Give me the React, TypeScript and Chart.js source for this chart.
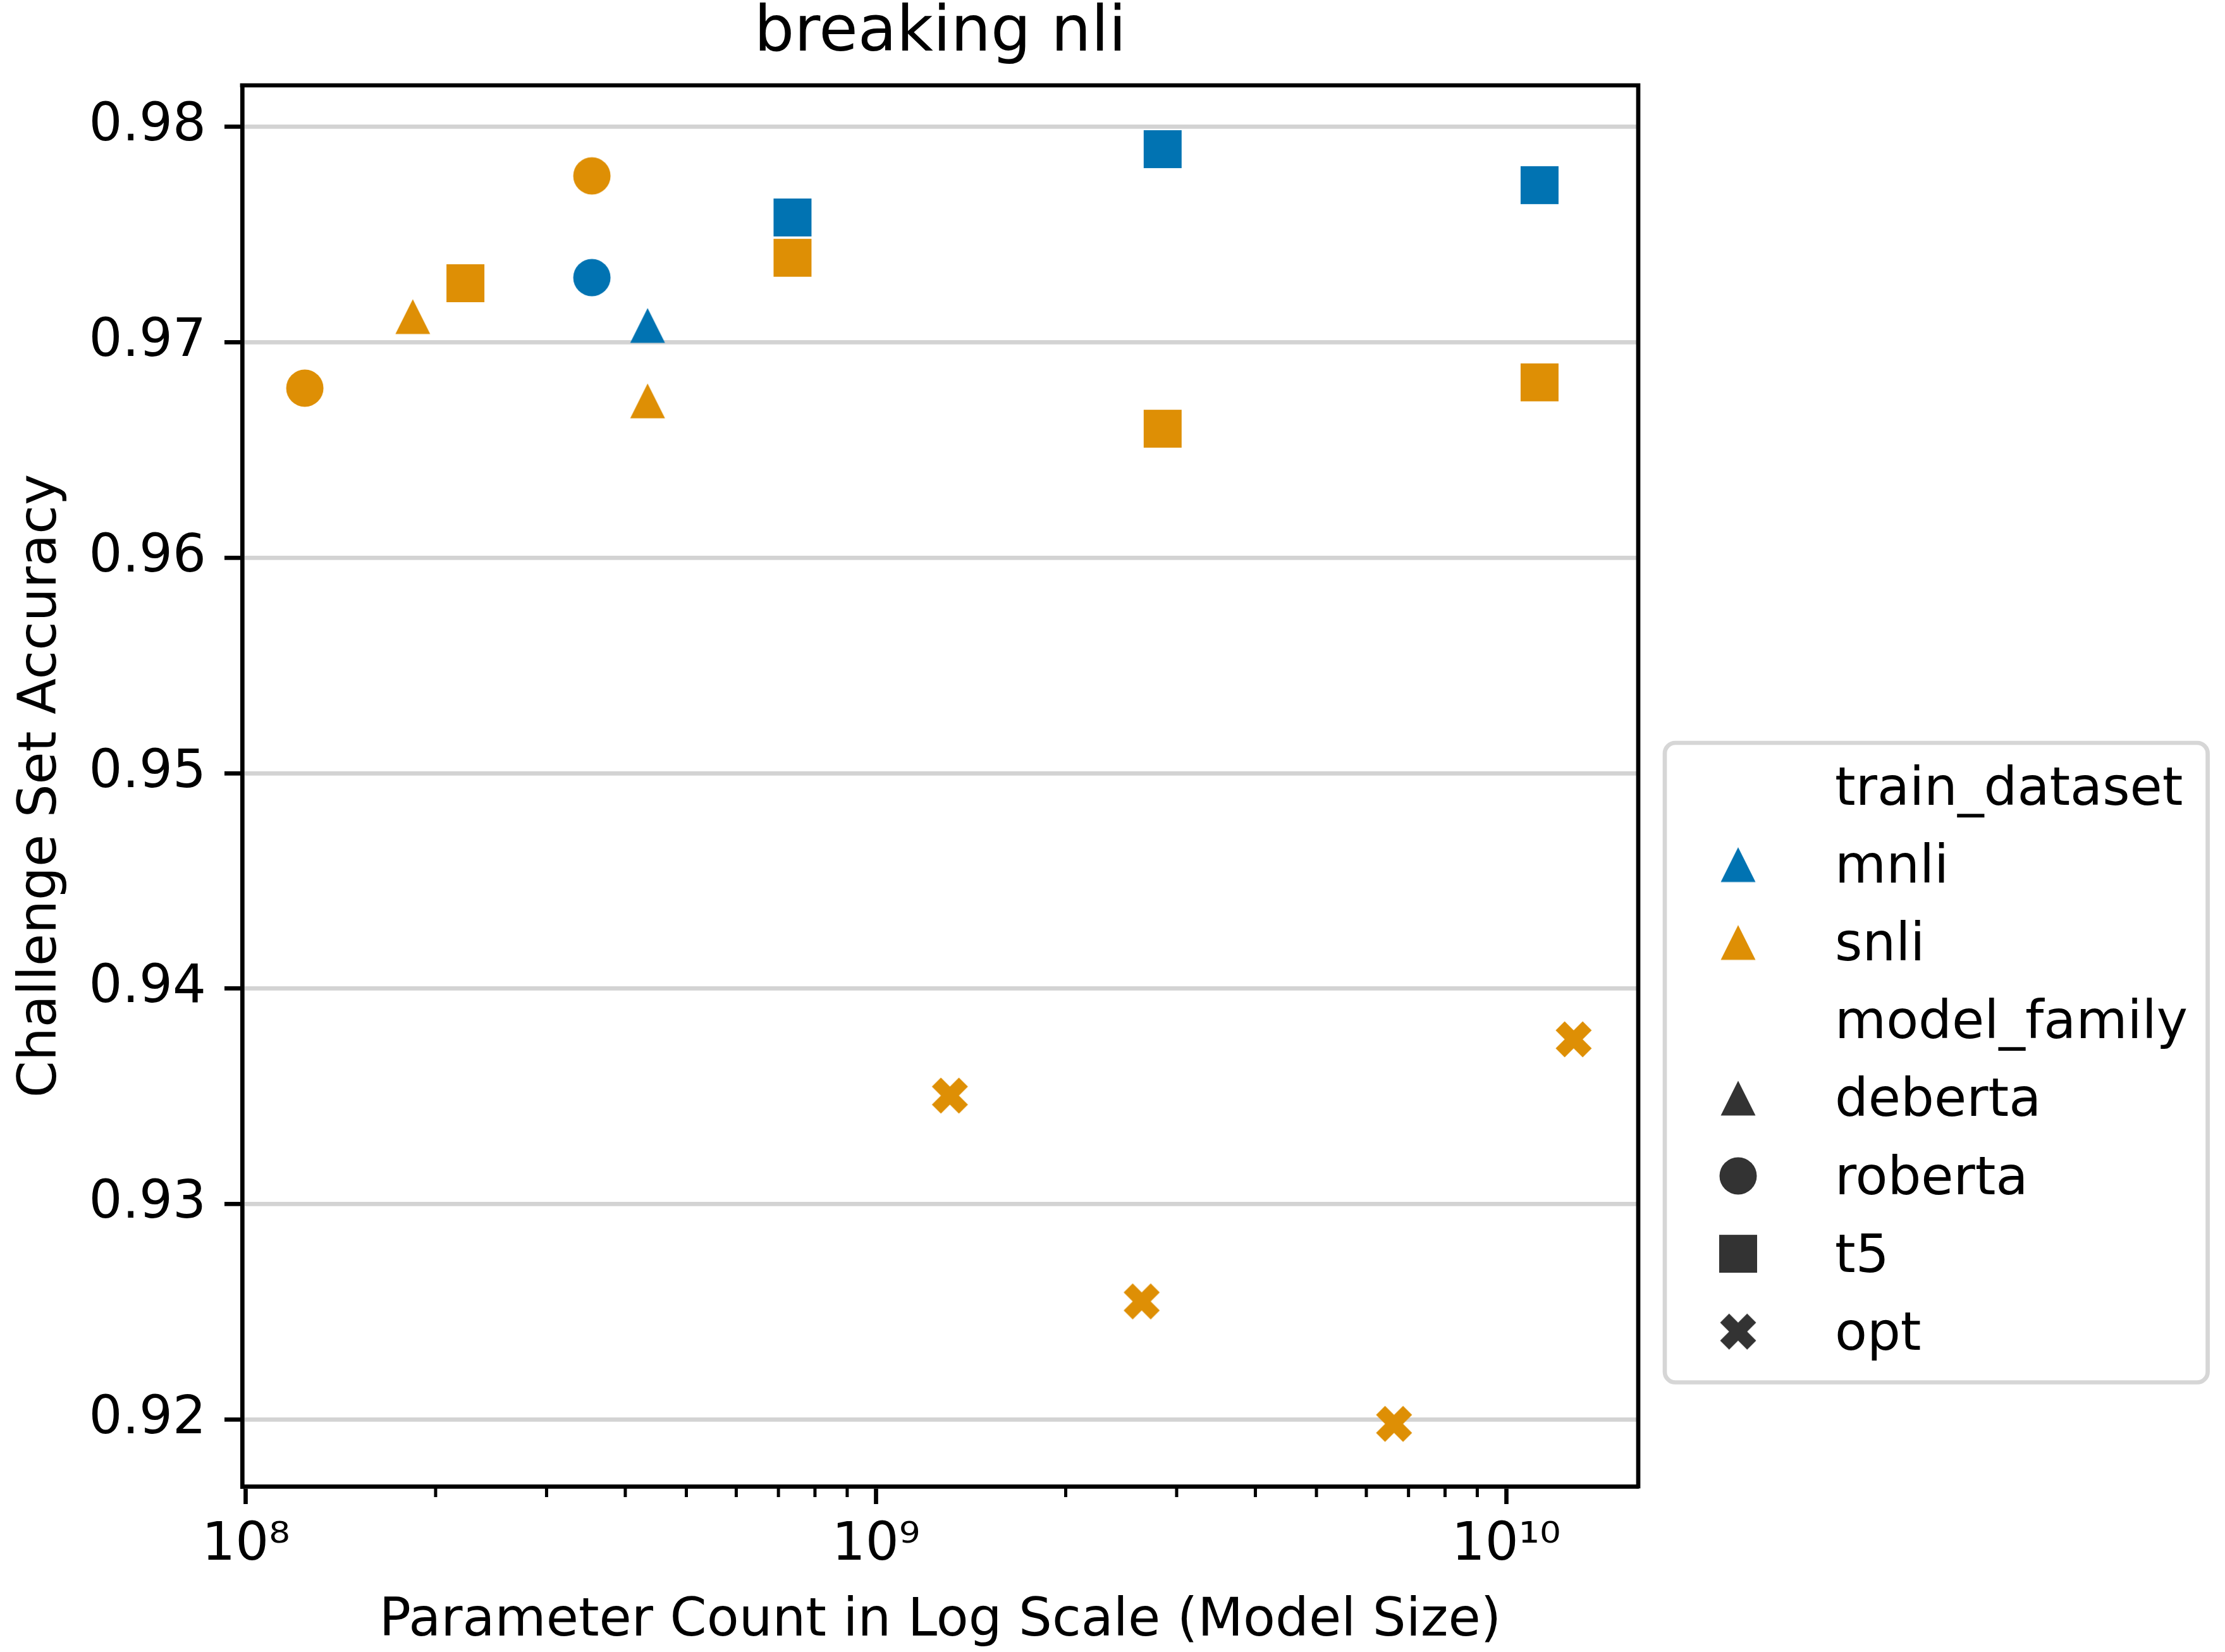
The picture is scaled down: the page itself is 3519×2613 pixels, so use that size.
import React, { useEffect, useRef } from 'react';
import { Chart, registerables } from 'chart.js';

Chart.register(...registerables);

const W = 3519;
const H = 2613;
const FONT = '"DejaVu Sans", "Liberation Sans", sans-serif';

// ---------- data ----------
const trainDatasets = ['mnli', 'snli'];
const modelFamilies = ['deberta', 'roberta', 't5', 'opt'];

const mnliParams = [4.34e8, 3.54e8, 7.37e8, 2.85e9, 1.13e10];
const mnliAccuracy = [0.97077, 0.97299, 0.97578, 0.97895, 0.97728];
const mnliFamily = ['deberta', 'roberta', 't5', 't5', 't5'];

const snliParams = [1.84e8, 4.34e8, 1.24e8, 3.54e8, 2.23e8, 7.37e8, 2.85e9, 1.13e10, 1.31e9, 2.64e9, 6.64e9, 1.28e10];
const snliAccuracy = [0.97118, 0.96727, 0.96786, 0.97771, 0.97273, 0.97391, 0.96598, 0.96813, 0.93504, 0.92549, 0.91981, 0.93765];
const snliFamily = ['deberta', 'deberta', 'roberta', 'roberta', 't5', 't5', 't5', 't5', 'opt', 'opt', 'opt', 'opt'];

const yTicks = [0.92, 0.93, 0.94, 0.95, 0.96, 0.97, 0.98];
const xMajorTicks = [1e8, 1e9, 1e10];
const xTickLabels = ['10⁸', '10⁹', '10¹⁰'];
const xMinorTicks = [2e8, 3e8, 4e8, 5e8, 6e8, 7e8, 8e8, 9e8, 2e9, 3e9, 4e9, 5e9, 6e9, 7e9, 8e9, 9e9];

const xMin = 9.863e7;
const xMax = 1.6207e10;
const yMin = 0.91691;
const yMax = 0.98191;

const seriesColors: Record<string, string> = { mnli: '#0173b2', snli: '#de8f05' };
const legendMarkerColor = '#333333';

// ---------- markers ----------
function makeMarker(shape: string, color: string): HTMLCanvasElement {
  const c = document.createElement('canvas');
  const s = 62;
  c.width = s;
  c.height = s;
  const g = c.getContext('2d')!;
  g.fillStyle = color;
  const m = s / 2;
  g.beginPath();
  if (shape === 't5') {
    g.rect(m - 30, m - 30, 60, 60);
  } else if (shape === 'roberta') {
    g.arc(m, m, 29.5, 0, Math.PI * 2);
  } else if (shape === 'deberta') {
    g.moveTo(m, m - 27.5);
    g.lineTo(m + 27.5, m + 27.5);
    g.lineTo(m - 27.5, m + 27.5);
    g.closePath();
  } else {
    const k = 57 / 4;
    const pts = [[-1, -2], [0, -1], [1, -2], [2, -1], [1, 0], [2, 1], [1, 2], [0, 1], [-1, 2], [-2, 1], [-1, 0], [-2, -1]];
    pts.forEach(([a, b], i) => {
      if (i === 0) g.moveTo(m + a * k, m + b * k);
      else g.lineTo(m + a * k, m + b * k);
    });
    g.closePath();
  }
  g.fill();
  return c;
}

export default function App() {
  const ref = useRef<HTMLCanvasElement>(null);

  useEffect(() => {
    document.body.style.margin = '0';
    const markers: Record<string, Record<string, HTMLCanvasElement>> = {};
    for (const ds of trainDatasets) {
      markers[ds] = {};
      for (const f of modelFamilies) markers[ds][f] = makeMarker(f, seriesColors[ds]);
    }
    const legendMarkers: Record<string, HTMLCanvasElement> = {};
    for (const f of modelFamilies) legendMarkers[f] = makeMarker(f, legendMarkerColor);

    const seriesData: Record<string, { params: number[]; acc: number[]; fam: string[] }> = {
      mnli: { params: mnliParams, acc: mnliAccuracy, fam: mnliFamily },
      snli: { params: snliParams, acc: snliAccuracy, fam: snliFamily },
    };

    const datasets = trainDatasets.map((name) => {
      const s = seriesData[name];
      return {
        label: name,
        data: s.params.map((x, i) => ({ x, y: s.acc[i] })),
        backgroundColor: seriesColors[name],
        borderWidth: 0,
        pointRadius: 30,
        pointHoverRadius: 30,
        pointStyle: (ctx: any) => {
          const i = ctx.dataIndex;
          if (i === undefined || i === null) return 'circle';
          return markers[name][s.fam[i]];
        },
      };
    });

    const legendRows: { label: string; marker: HTMLCanvasElement | null }[] = [
      { label: 'train_dataset', marker: null },
      ...trainDatasets.map((d) => ({ label: d, marker: markers[d]['deberta'] })),
      { label: 'model_family', marker: null },
      ...modelFamilies.map((f) => ({ label: f, marker: legendMarkers[f] })),
    ];

    const decorPlugin = {
      id: 'decor',
      afterDraw(chart: any) {
        const { ctx, chartArea: a, scales } = chart;
        const xs = scales.x;
        ctx.save();
        // top and right spines
        ctx.strokeStyle = '#000';
        ctx.lineWidth = 6.7;
        ctx.lineCap = 'square';
        ctx.beginPath();
        ctx.moveTo(a.left, a.top);
        ctx.lineTo(a.right, a.top);
        ctx.lineTo(a.right, a.bottom);
        ctx.stroke();
        // minor ticks on x
        ctx.lineCap = 'butt';
        ctx.lineWidth = 5;
        for (const v of xMinorTicks) {
          const px = xs.getPixelForValue(v);
          ctx.beginPath();
          ctx.moveTo(px, a.bottom);
          ctx.lineTo(px, a.bottom + 17);
          ctx.stroke();
        }
        // legend
        const fl = a.right + 42;
        const ft = 1175;
        const fw = 858.6;
        const fh = 1011.5;
        const r = 16.6;
        ctx.beginPath();
        ctx.moveTo(fl + r, ft);
        ctx.lineTo(fl + fw - r, ft);
        ctx.arcTo(fl + fw, ft, fl + fw, ft + r, r);
        ctx.lineTo(fl + fw, ft + fh - r);
        ctx.arcTo(fl + fw, ft + fh, fl + fw - r, ft + fh, r);
        ctx.lineTo(fl + r, ft + fh);
        ctx.arcTo(fl, ft + fh, fl, ft + fh - r, r);
        ctx.lineTo(fl, ft + r);
        ctx.arcTo(fl, ft, fl + r, ft, r);
        ctx.closePath();
        ctx.fillStyle = 'rgba(255,255,255,0.8)';
        ctx.fill();
        ctx.strokeStyle = '#d6d6d6';
        ctx.lineWidth = 6.7;
        ctx.stroke();
        ctx.font = `83.3px ${FONT}`;
        ctx.fillStyle = '#000';
        ctx.textAlign = 'left';
        ctx.textBaseline = 'alphabetic';
        const markerX = fl + 116;
        const textX = fl + 269;
        legendRows.forEach((row, i) => {
          const base = ft + 98 + i * 123.1;
          if (row.marker) {
            const mk = row.marker;
            ctx.drawImage(mk, markerX - mk.width / 2, base - 28.5 - mk.height / 2);
          }
          ctx.fillText(row.label, textX, base);
        });
        ctx.restore();
      },
    };

    const chart = new Chart(ref.current!, {
      type: 'scatter',
      data: { datasets: datasets as any },
      options: {
        responsive: false,
        maintainAspectRatio: false,
        devicePixelRatio: 1,
        animation: false,
        events: [],
        layout: { padding: { left: 0, top: 0, right: 928, bottom: 0 } },
        plugins: {
          legend: { display: false },
          tooltip: { enabled: false },
          title: {
            display: true,
            text: 'breaking nli',
            color: '#000',
            fullSize: false,
            font: { family: FONT, size: 100, weight: 'normal', lineHeight: 1 },
            padding: { top: 4.5, bottom: 30.5 },
          },
        },
        scales: {
          x: {
            type: 'logarithmic',
            min: xMin,
            max: xMax,
            afterBuildTicks: (scale: any) => {
              scale.ticks = xMajorTicks.map((v) => ({ value: v, major: true }));
            },
            afterFit: (scale: any) => {
              scale.height = 262;
            },
            ticks: {
              autoSkip: false,
              maxRotation: 0,
              minRotation: 0,
              padding: 16,
              color: '#000',
              font: { family: FONT, size: 83.3 },
              callback: (value: any) => {
                const idx = xMajorTicks.indexOf(Number(value));
                return idx >= 0 ? xTickLabels[idx] : '';
              },
            },
            grid: {
              display: true,
              drawOnChartArea: false,
              drawTicks: true,
              tickLength: 28,
              tickColor: '#000',
              tickWidth: 6.7,
            },
            border: { display: true, color: '#000', width: 6.7 },
            title: {
              display: true,
              text: 'Parameter Count in Log Scale (Model Size)',
              color: '#000',
              font: { family: FONT, size: 83.3 },
              padding: { top: 0, bottom: -2 },
            },
          },
          y: {
            type: 'linear',
            min: yMin,
            max: yMax,
            afterBuildTicks: (scale: any) => {
              scale.ticks = yTicks.map((v) => ({ value: v }));
            },
            afterFit: (scale: any) => {
              scale.width = 383;
            },
            ticks: {
              autoSkip: false,
              padding: 29,
              color: '#000',
              font: { family: FONT, size: 83.3 },
              callback: (value: any) => Number(value).toFixed(2),
            },
            grid: {
              display: true,
              drawOnChartArea: true,
              color: '#d3d3d3',
              lineWidth: 6.7,
              drawTicks: true,
              tickLength: 28,
              tickColor: '#000',
              tickWidth: 6.7,
            },
            border: { display: true, color: '#000', width: 6.7 },
            title: {
              display: true,
              text: 'Challenge Set Accuracy',
              color: '#000',
              font: { family: FONT, size: 83.3 },
              padding: { top: 16, bottom: 0 },
            },
          },
        },
      },
      plugins: [decorPlugin],
    } as any);

    return () => chart.destroy();
  }, []);

  return (
    <div style={{ position: 'absolute', left: 0, top: 0, width: W, height: H, background: '#fff' }}>
      <canvas ref={ref} width={W} height={H} style={{ width: W, height: H, display: 'block' }} />
    </div>
  );
}
